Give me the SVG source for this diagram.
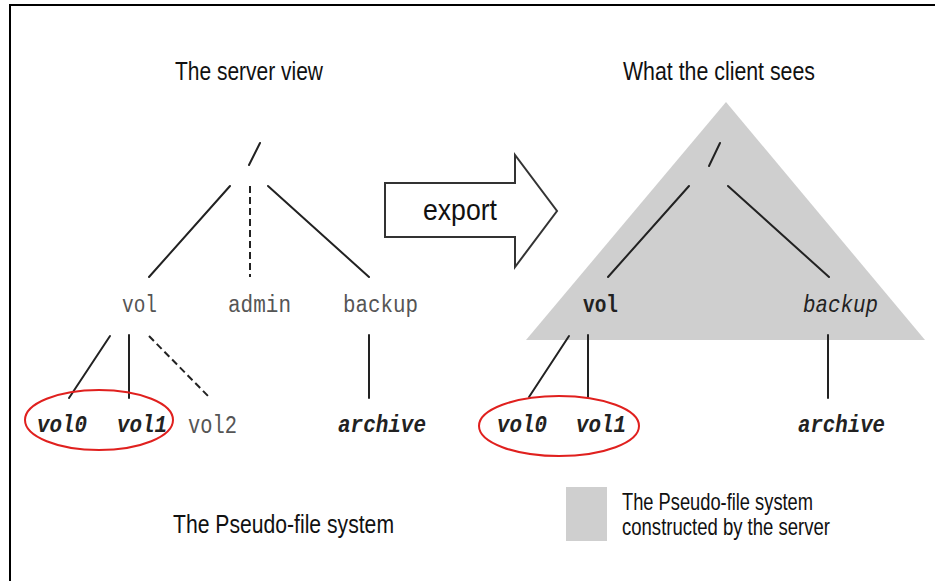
<svg xmlns="http://www.w3.org/2000/svg" width="940" height="581" viewBox="0 0 940 581">
<style>
.title{font-family:"Liberation Sans",Arial,sans-serif;font-size:26px;fill:#111}
.mono{font-family:"Liberation Mono","Courier New",monospace;font-size:23px}
.gray{fill:#555}
.bi{font-weight:bold;font-style:italic;fill:#222}
.b{font-weight:bold;fill:#222}
.i{font-style:italic;fill:#222}
.ln{stroke:#222;stroke-width:2;fill:none;stroke-linecap:round}
.dash{stroke-dasharray:7 4;stroke-linecap:butt}
.ring{fill:none;stroke:#e0201e;stroke-width:2}
.shade{fill:#cfcfcf}
</style>
<rect width="940" height="581" fill="#fff"/>
<path d="M10 581 V5 H935" fill="none" stroke="#000" stroke-width="2"/>

<g id="titles">
<text class="title" x="175" y="80" textLength="148" lengthAdjust="spacingAndGlyphs">The server view</text>
<text class="title" x="623" y="80" textLength="192" lengthAdjust="spacingAndGlyphs">What the client sees</text>
<text class="title" x="173" y="533" textLength="221" lengthAdjust="spacingAndGlyphs">The Pseudo-file system</text>
</g>

<g id="export-arrow">
<path d="M385 183 H515 V155 L557 211 L515 267 V237 H385 Z" fill="#fff" stroke="#333" stroke-width="2" stroke-linejoin="miter"/>
<text class="title" x="423" y="220" textLength="74" lengthAdjust="spacingAndGlyphs" style="font-size:30px">export</text>
</g>

<g id="pseudo-fs-triangle">
<polygon class="shade" points="726,102 925,340 526,340"/>
</g>

<g id="legend">
<rect class="shade" x="566" y="487" width="41" height="54"/>
<text class="title" x="622" y="510" style="font-size:24px" textLength="191" lengthAdjust="spacingAndGlyphs">The Pseudo-file system</text>
<text class="title" x="622" y="535" style="font-size:24px" textLength="208" lengthAdjust="spacingAndGlyphs">constructed by the server</text>
</g>

<g id="connectors">
<!-- server view -->
<line class="ln" x1="260" y1="143" x2="249" y2="165"/>
<line class="ln" x1="230" y1="186" x2="149" y2="277"/>
<line class="ln dash" x1="250" y1="186" x2="250" y2="277"/>
<line class="ln" x1="268" y1="186" x2="369" y2="277"/>
<line class="ln" x1="110" y1="336" x2="69" y2="398"/>
<line class="ln" x1="129" y1="335" x2="129" y2="398"/>
<line class="ln dash" x1="149" y1="336" x2="209" y2="397"/>
<line class="ln" x1="369" y1="335" x2="369" y2="398"/>
<!-- client view -->
<line class="ln" x1="720" y1="143" x2="709" y2="166"/>
<line class="ln" x1="689" y1="186" x2="608" y2="277"/>
<line class="ln" x1="728" y1="186" x2="829" y2="277"/>
<line class="ln" x1="569" y1="336" x2="529" y2="397"/>
<line class="ln" x1="588" y1="335" x2="588" y2="397"/>
<line class="ln" x1="828" y1="335" x2="828" y2="398"/>
</g>

<g id="server-vol"><text class="mono gray" x="122" y="312" textLength="35" lengthAdjust="spacingAndGlyphs">vol</text></g>
<g id="server-admin"><text class="mono gray" x="228" y="312" textLength="63" lengthAdjust="spacingAndGlyphs">admin</text></g>
<g id="server-backup"><text class="mono gray" x="343" y="312" textLength="75" lengthAdjust="spacingAndGlyphs">backup</text></g>
<g id="server-vol0"><text class="mono bi" x="37" y="432" textLength="50" lengthAdjust="spacingAndGlyphs">vol0</text></g>
<g id="server-vol1"><text class="mono bi" x="117" y="432" textLength="50" lengthAdjust="spacingAndGlyphs">vol1</text></g>
<g id="server-vol2"><text class="mono gray" x="188" y="433" textLength="49" lengthAdjust="spacingAndGlyphs" style="font-size:25px">vol2</text></g>
<g id="server-archive"><text class="mono bi" x="338" y="432" textLength="88" lengthAdjust="spacingAndGlyphs">archive</text></g>
<g id="server-highlight"><ellipse class="ring" cx="99" cy="420" rx="74" ry="30"/></g>

<g id="client-vol"><text class="mono b" x="583" y="312" textLength="35" lengthAdjust="spacingAndGlyphs">vol</text></g>
<g id="client-backup"><text class="mono i" x="803" y="312" textLength="75" lengthAdjust="spacingAndGlyphs">backup</text></g>
<g id="client-vol0"><text class="mono bi" x="497" y="432" textLength="50" lengthAdjust="spacingAndGlyphs">vol0</text></g>
<g id="client-vol1"><text class="mono bi" x="576" y="432" textLength="50" lengthAdjust="spacingAndGlyphs">vol1</text></g>
<g id="client-archive"><text class="mono bi" x="798" y="432" textLength="87" lengthAdjust="spacingAndGlyphs">archive</text></g>
<g id="client-highlight"><ellipse class="ring" cx="559" cy="426" rx="80" ry="30"/></g>
</svg>
